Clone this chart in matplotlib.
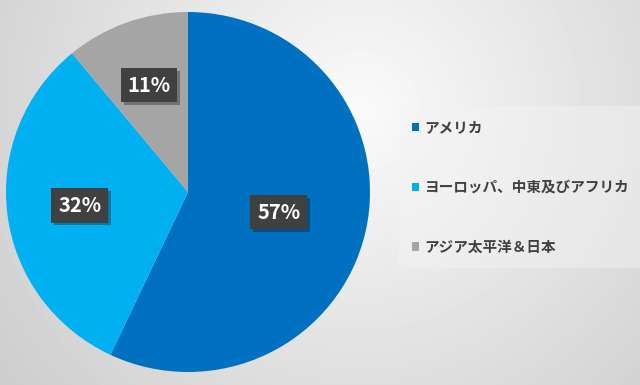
import matplotlib.pyplot as plt
import matplotlib.patheffects as pe
import numpy as np

plt.rcParams['font.family'] = ['Noto Sans CJK JP', 'DejaVu Sans']

regions = ['アメリカ', 'ヨーロッパ、中東及びアフリカ', 'アジア太平洋＆日本']
shares = [57, 32, 11]
colors = ['#0070C0', '#00B0F0', '#A5A5A5']
label_dist = [0.51, 0.60, 0.63]

W, H = 640, 385
fig = plt.figure(figsize=(W / 100, H / 100), dpi=100)

# background gradient
bg = fig.add_axes([0, 0, 1, 1])
yy, xx = np.mgrid[0:H, 0:W]
d = np.sqrt((xx - 360) ** 2 + (yy - 110) ** 2)
shade = np.clip(250 - d * 0.1, 195, 250) / 255.0
bg.imshow(shade, cmap='gray', vmin=0, vmax=1, extent=[0, W, H, 0], aspect='auto')
bg.set_xlim(0, W)
bg.set_ylim(H, 0)
bg.axis('off')

# pie
cx, cy, rx, ry = 188, 192, 182, 180
ax = fig.add_axes([(cx - rx) / W, (H - cy - ry) / H, 2 * rx / W, 2 * ry / H])
wedges, texts, autotexts = ax.pie(
    shares, colors=colors, startangle=90, counterclock=False,
    autopct='%d%%', pctdistance=0.6,
    textprops=dict(color='white', fontsize=14.5, fontweight='bold'))
for w, t, r in zip(wedges, autotexts, label_dist):
    ang = np.deg2rad((w.theta1 + w.theta2) / 2)
    t.set_position((r * np.cos(ang), r * np.sin(ang)))
    t.set_bbox(dict(boxstyle='square,pad=0.33', facecolor='#404040', edgecolor='none'))
    t.get_bbox_patch().set_path_effects([pe.withSimplePatchShadow(offset=(2, -2), alpha=0.35)])
ax.set_xlim(-1, 1)
ax.set_ylim(-1, 1)
ax.set_aspect('auto')
ax.axis('off')

leg = fig.legend(wedges, regions, loc='center left',
                 bbox_to_anchor=(399 / W, 1 - 187 / H),
                 frameon=True, fancybox=False, handlelength=0.5, handleheight=0.5,
                 handletextpad=0.35, labelspacing=3.0, borderpad=0.9,
                 borderaxespad=0,
                 prop=dict(size=10.5, weight='bold'))
leg.get_frame().set_facecolor('#f4f4f4')
leg.get_frame().set_alpha(0.45)
leg.get_frame().set_edgecolor('none')
for t in leg.get_texts():
    t.set_color('#404040')

fig.savefig('out.png', dpi=100)
